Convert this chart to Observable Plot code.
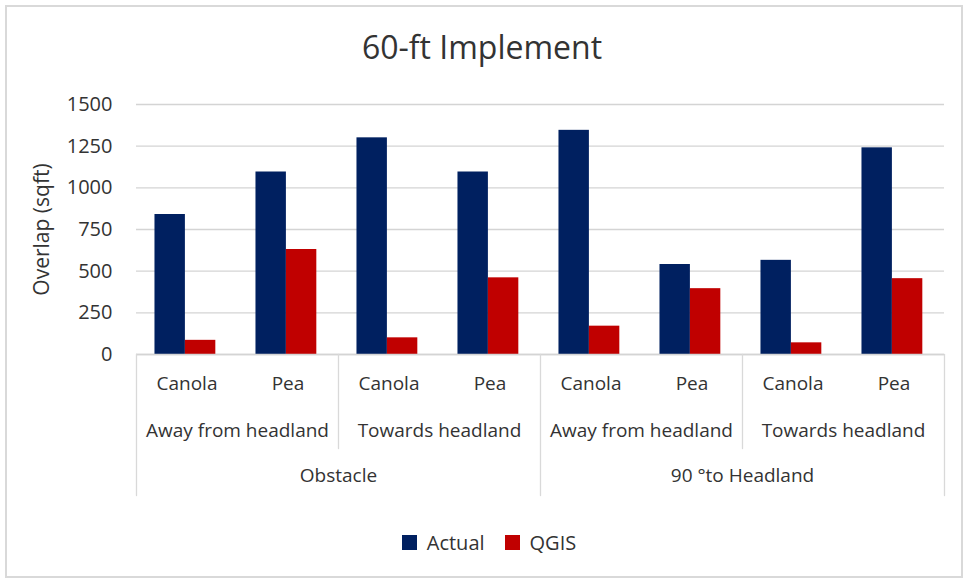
<!DOCTYPE html>
<html>
<head>
<meta charset="utf-8">
<script src="https://cdn.jsdelivr.net/npm/d3@7"></script>
<script src="https://cdn.jsdelivr.net/npm/@observablehq/plot@0.6"></script>
<style>
  html, body { margin: 0; padding: 0; background: #fff; }
  #wrap { position: relative; width: 964px; height: 580px; overflow: hidden; font-family: 'Open Sans', sans-serif; color: #333; }
  #frame { position: absolute; left: 5px; top: 5px; width: 958px; height: 573px; box-sizing: border-box; border: 2px solid #d9d9d9; }
  #title { position: absolute; left: 0; top: 25px; width: 964px; text-align: center; font-size: 32px; line-height: normal; color: #333; }
  #chart { position: absolute; left: 0; top: 0; }
  #legend { position: absolute; left: 0; top: 526px; width: 964px; box-sizing: border-box; padding-left: 34px; display: flex; justify-content: center; }
</style>
</head>
<body>
<div id="wrap">
  <div id="frame"></div>
  <div id="chart"></div>
  <div id="title">60-ft Implement</div>
  <div id="legend"></div>
</div>
<script>
// ---- data ----
const groups = ["Obstacle", "90 °to Headland"];
const directions = ["Away from headland", "Towards headland"];
const crops = ["Canola", "Pea"];
const series = ["Actual", "QGIS"];
const actual = [840, 1095, 1300, 1095, 1345, 540, 565, 1240];
const qgis = [85, 630, 100, 460, 170, 395, 70, 455];
const yTicks = [0, 250, 500, 750, 1000, 1250, 1500];
const colors = ["#002060", "#c00000"];
const yLabel = "Overlap (sqft)";

// ---- build table ----
const keyOf = (g, d, c) => `${g}|${d}|${c}`;
const keys = [];
const rows = [];
const cats = [];
let i = 0;
for (const g of groups) for (const d of directions) for (const c of crops) {
  const key = keyOf(g, d, c);
  keys.push(key);
  cats.push({key, group: g, direction: d, crop: c});
  rows.push({key, series: "Actual", value: actual[i]});
  rows.push({key, series: "QGIS", value: qgis[i]});
  i++;
}
const dirLabels = [];
for (const g of groups) for (const d of directions) dirLabels.push({key: keyOf(g, d, crops[0]), text: d});
const groupLabels = groups.map(g => ({key: keyOf(g, directions[0], crops[1]), text: g}));
const outerSeps = groups.map(g => ({key: keyOf(g, directions[0], crops[0])}));
const innerSeps = groups.map(g => ({key: keyOf(g, directions[1], crops[0])}));
const lastSep = [{key: keys[keys.length - 1]}];

const line = {draw(ctx, l) { ctx.moveTo(0, 0); ctx.lineTo(0, -l); }};
const sepStyle = {stroke: "#d9d9d9", strokeWidth: 1.3, rotate: 180, anchor: "start", shape: line};

const chart = Plot.plot({
  width: 964,
  height: 510,
  marginLeft: 134,
  marginRight: 18,
  marginTop: 104,
  marginBottom: 156,
  style: {fontFamily: "'Open Sans', sans-serif", fontSize: "19px", color: "#333", background: "transparent", overflow: "visible"},
  fx: {domain: keys, paddingInner: 0, paddingOuter: 0, axis: null, label: null},
  x: {domain: series, paddingInner: 0, paddingOuter: 0.66, align: 0.46, round: false, axis: null},
  y: {domain: [0, 1500]},
  color: {domain: series, range: colors},
  marks: [
    Plot.gridY(yTicks, {stroke: "#d4d4d4", strokeOpacity: 1, strokeWidth: 1.3}),
    Plot.axisY(yTicks, {tickSize: 0, tickPadding: 24, fontSize: 20, label: null, tickFormat: d => String(d)}),
    Plot.barY(rows, {fx: "key", x: "series", y: "value", fill: "series"}),
    Plot.ruleY([0], {stroke: "#d4d4d4", strokeWidth: 1.3}),
    Plot.text(cats, {fx: "key", text: "crop", frameAnchor: "bottom", dy: 35, fontSize: 19}),
    Plot.text(dirLabels, {fx: "key", text: "text", frameAnchor: "bottom-right", textAnchor: "middle", dy: 82, fontSize: 19}),
    Plot.text(groupLabels, {fx: "key", text: "text", frameAnchor: "bottom-right", textAnchor: "middle", dy: 127, fontSize: 19}),
    Plot.vector(outerSeps, {fx: "key", frameAnchor: "bottom-left", length: 141, ...sepStyle}),
    Plot.vector(lastSep, {fx: "key", frameAnchor: "bottom-right", length: 141, ...sepStyle}),
    Plot.vector(innerSeps, {fx: "key", frameAnchor: "bottom-left", length: 94, ...sepStyle}),
    Plot.text([{key: keys[0], text: yLabel}], {fx: "key", text: "text", frameAnchor: "left", textAnchor: "middle", rotate: -90, dx: -94, fontSize: 21})
  ]
});
document.getElementById("chart").appendChild(chart);

const legend = Plot.legend({
  color: {type: "ordinal", domain: series, range: colors},
  legend: "swatches",
  swatchSize: 15,
  style: {fontFamily: "'Open Sans', sans-serif", fontSize: "20px", color: "#333"}
});
document.getElementById("legend").appendChild(legend);
</script>
</body>
</html>
